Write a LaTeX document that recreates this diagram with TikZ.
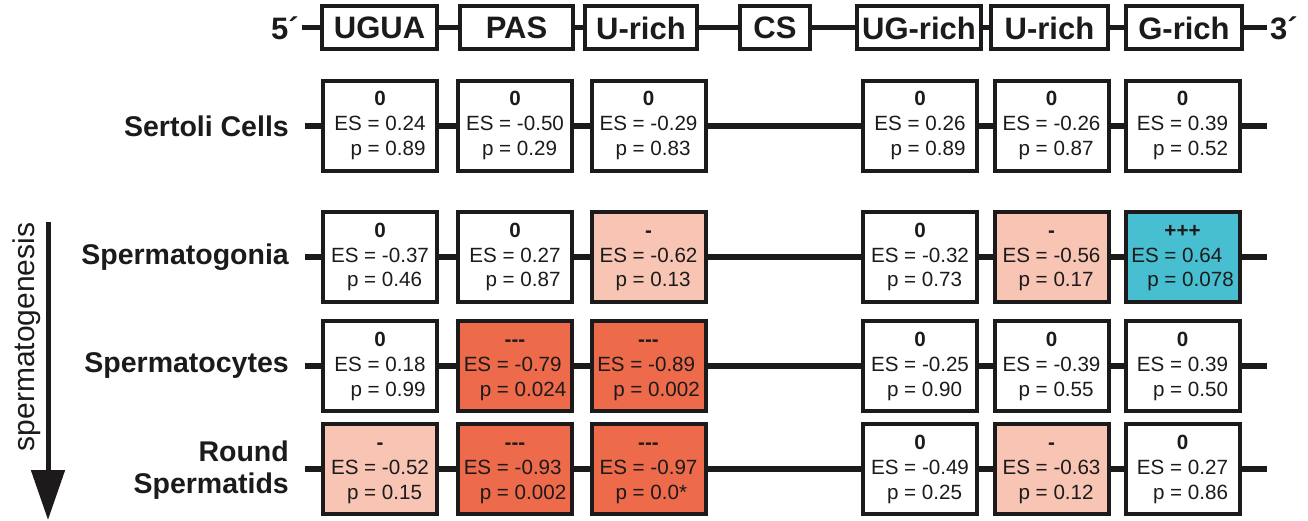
\documentclass[tikz,border=0pt]{standalone}
\usepackage{fontspec}
\setmainfont{Liberation Sans}
\usetikzlibrary{arrows.meta}

\definecolor{ink}{RGB}{28,26,26}
\definecolor{lowfill}{RGB}{248,197,180}
\definecolor{strongfill}{RGB}{237,106,75}
\definecolor{upfill}{RGB}{72,190,209}

% sign / enrichment score / p-value, aligned on the equals sign
\newcommand\esstat[3]{\begin{tabular}{@{}r@{ = }l@{}}\multicolumn{2}{@{}c@{}}{\bfseries #1}\\ ES & #2\\ p & #3\end{tabular}}

\tikzset{
  elem/.style={draw=ink, line width=4pt, fill=white, inner sep=0pt,
    minimum height=43pt, text=ink, font=\bfseries\fontsize{31}{36}\selectfont},
  cell/.style={draw=ink, line width=4pt, fill=white, inner sep=0pt,
    minimum width=114pt, minimum height=90pt, text=ink,
    font=\fontsize{20.6}{25}\selectfont},
  rowlabel/.style={anchor=east, align=right, inner sep=0pt, text=ink,
    font=\bfseries\fontsize{28.5}{32}\selectfont},
  endlabel/.style={inner sep=3pt, text=ink, font=\bfseries\fontsize{31}{36}\selectfont},
  track/.style={draw=ink, line width=5.5pt},
}

\begin{document}
\begin{tikzpicture}[x=1pt,y=-1pt]
\useasboundingbox (0,0) rectangle (1308,521);

% ---- 3' UTR element map ----
\node[endlabel] (five) at (285,28) {5´};
\node[elem, minimum width=115pt] (hUGUA) at (379.5,28) {UGUA};
\node[elem, minimum width=113pt] (hPAS) at (516.5,28) {PAS};
\node[elem, minimum width=112pt] (hUR1) at (641,28) {U-rich};
\node[elem, minimum width=70pt] (hCS) at (775,28) {CS};
\node[elem, minimum width=124pt] (hUG) at (919,28) {UG-rich};
\node[elem, minimum width=117pt] (hUR2) at (1049.5,28) {U-rich};
\node[elem, minimum width=116pt] (hG) at (1184,28) {G-rich};
\node[endlabel] (three) at (1284,28) {3´};
\draw[track, line width=5pt] (five) -- (hUGUA) -- (hPAS) -- (hUR1) -- (hCS) -- (hUG) -- (hUR2) -- (hG) -- (three);

% ---- cell-type labels ----
\node[rowlabel] (lSer) at (289,126) {Sertoli Cells};
\node[rowlabel] (lSg) at (289,257) {Spermatogonia};
\node[rowlabel] (lSc) at (289,366) {Spermatocytes};
\node[rowlabel] (lRs) at (289,470) {Round\\Spermatids};

% ---- development arrow ----
\coordinate (arrTop) at (48,222);
\coordinate (arrTip) at (48,520);
\draw[ink, line width=5pt, -{Triangle[length=50pt,width=33pt]}] (arrTop) -- (arrTip);
\node[rotate=90, inner sep=0pt, text=ink, font=\fontsize{30}{34}\selectfont] (dev) at (27,337) {spermatogenesis};

% ---- Sertoli cells ----
\coordinate (aL) at (305,126); \coordinate (aR) at (1267,126);
\node[cell] (a1) at (380,126)    {\esstat{0}{0.24}{0.89}};
\node[cell] (a2) at (515,126)    {\esstat{0}{-0.50}{0.29}};
\node[cell] (a3) at (648.5,126)  {\esstat{0}{-0.29}{0.83}};
\node[cell] (a5) at (920,126)    {\esstat{0}{0.26}{0.89}};
\node[cell] (a6) at (1051.5,126) {\esstat{0}{-0.26}{0.87}};
\node[cell] (a7) at (1182.5,126) {\esstat{0}{0.39}{0.52}};

% ---- spermatogonia ----
\coordinate (bL) at (305,257); \coordinate (bR) at (1267,257);
\node[cell] (b1) at (380,257)    {\esstat{0}{-0.37}{0.46}};
\node[cell] (b2) at (515,257)    {\esstat{0}{0.27}{0.87}};
\node[cell, fill=lowfill] (b3) at (648.5,257)  {\esstat{-}{-0.62}{0.13}};
\node[cell] (b5) at (920,257)    {\esstat{0}{-0.32}{0.73}};
\node[cell, fill=lowfill] (b6) at (1051.5,257) {\esstat{-}{-0.56}{0.17}};
\node[cell, fill=upfill] (b7) at (1182.5,257)  {\esstat{+++}{0.64}{0.078}};

% ---- spermatocytes ----
\coordinate (cL) at (305,366); \coordinate (cR) at (1267,366);
\node[cell] (c1) at (380,366)    {\esstat{0}{0.18}{0.99}};
\node[cell, fill=strongfill] (c2) at (515,366)   {\esstat{-{}-{}-}{-0.79}{0.024}};
\node[cell, fill=strongfill] (c3) at (648.5,366) {\esstat{-{}-{}-}{-0.89}{0.002}};
\node[cell] (c5) at (920,366)    {\esstat{0}{-0.25}{0.90}};
\node[cell] (c6) at (1051.5,366) {\esstat{0}{-0.39}{0.55}};
\node[cell] (c7) at (1182.5,366) {\esstat{0}{0.39}{0.50}};

% ---- round spermatids ----
\coordinate (dL) at (305,469); \coordinate (dR) at (1267,469);
\node[cell, fill=lowfill] (d1) at (380,469)      {\esstat{-}{-0.52}{0.15}};
\node[cell, fill=strongfill] (d2) at (515,469)   {\esstat{-{}-{}-}{-0.93}{0.002}};
\node[cell, fill=strongfill] (d3) at (648.5,469) {\esstat{-{}-{}-}{-0.97}{0.0*}};
\node[cell] (d5) at (920,469)    {\esstat{0}{-0.49}{0.25}};
\node[cell, fill=lowfill] (d6) at (1051.5,469)   {\esstat{-}{-0.63}{0.12}};
\node[cell] (d7) at (1182.5,469) {\esstat{0}{0.27}{0.86}};

% ---- row tracks ----
\draw[track] (aL) -- (a1) -- (a2) -- (a3) -- (a5) -- (a6) -- (a7) -- (aR);
\draw[track] (bL) -- (b1) -- (b2) -- (b3) -- (b5) -- (b6) -- (b7) -- (bR);
\draw[track] (cL) -- (c1) -- (c2) -- (c3) -- (c5) -- (c6) -- (c7) -- (cR);
\draw[track] (dL) -- (d1) -- (d2) -- (d3) -- (d5) -- (d6) -- (d7) -- (dR);
\end{tikzpicture}
\end{document}
